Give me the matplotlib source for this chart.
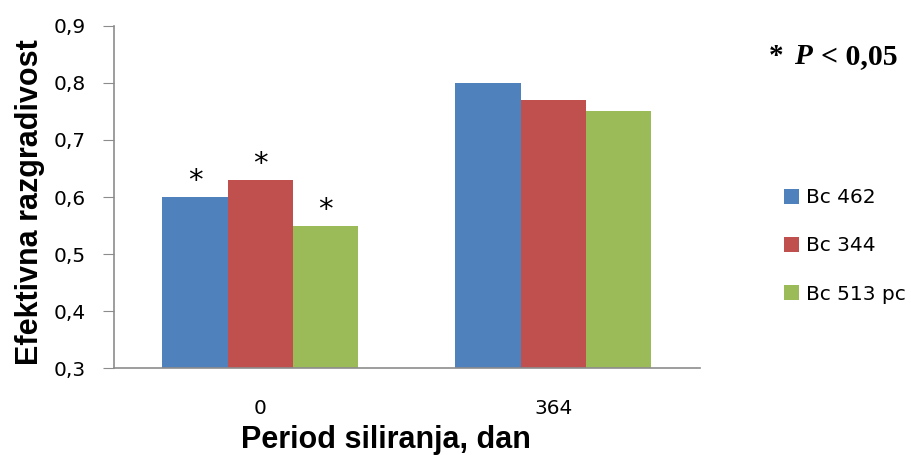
import matplotlib
matplotlib.use("Agg")
import matplotlib.pyplot as plt
import numpy as np

# data
periods = ["0", "364"]
series = ["Bc 462", "Bc 344", "Bc 513 pc"]
bc462 = [0.60, 0.80]
bc344 = [0.63, 0.77]
bc513 = [0.55, 0.75]
signif = [[True, False], [True, False], [True, False]]  # asterisks per series/period
colors = ["#4F81BD", "#C0504D", "#9BBB59"]

fig = plt.figure(figsize=(9.12, 4.55), dpi=100)
ax = fig.add_axes([0.125, 0.191, 0.6425, 0.752])

x = np.arange(len(periods))
w = 0.223
vals = [bc462, bc344, bc513]
for i, (name, v) in enumerate(zip(series, vals)):
    pos = x + (i - 1) * w
    ax.bar(pos, v, width=w, color=colors[i], label=name, zorder=2)
    for j in range(len(periods)):
        if signif[i][j]:
            ax.annotate("*", (pos[j], v[j]), xytext=(0, 2), textcoords="offset pixels",
                        ha="center", va="bottom", fontsize=21, family="DejaVu Sans")

ax.set_xlim(-0.5, 1.5)
ax.set_ylim(0.3, 0.9)
ax.set_yticks(np.arange(0.3, 0.91, 0.1))
ax.set_yticklabels([f"{t:.1f}".replace(".", ",") for t in np.arange(0.3, 0.91, 0.1)])
ax.set_xticks(x)
ax.set_xticklabels(periods)
for s in ["top", "right"]:
    ax.spines[s].set_visible(False)
for s in ["left", "bottom"]:
    ax.spines[s].set_color("#8c8c8c")
    ax.spines[s].set_linewidth(1.2)
ax.tick_params(axis="y", direction="out", length=8, color="#8c8c8c", labelsize=14.5, pad=12)
ax.tick_params(axis="x", length=0, labelsize=14.5, pad=22)

fig.text(0.033, 0.555, "Efektivna razgradivost", fontsize=22, fontweight="bold",
         family="Liberation Sans", ha="center", va="center", rotation=90)
fig.text(0.423, 0.033, "Period siliranja, dan", fontsize=22, fontweight="bold",
         family="Liberation Sans", ha="center", va="center")

# "* P < 0,05"
fig.text(0.843, 0.875, "*", fontsize=21, fontweight="bold", family="Liberation Serif", va="center")
fig.text(0.871, 0.875, "P", fontsize=21, fontweight="bold", style="italic",
         family="Liberation Serif", va="center")
fig.text(0.900, 0.875, "< 0,05", fontsize=21.5, fontweight="bold", family="Liberation Serif",
         va="center")

ax.legend(loc="center left", bbox_to_anchor=(1.113, 0.357), frameon=False, fontsize=14.5,
          handlelength=0.75, handleheight=0.75, handletextpad=0.35, labelspacing=1.45)

fig.savefig("out.png", dpi=100)
